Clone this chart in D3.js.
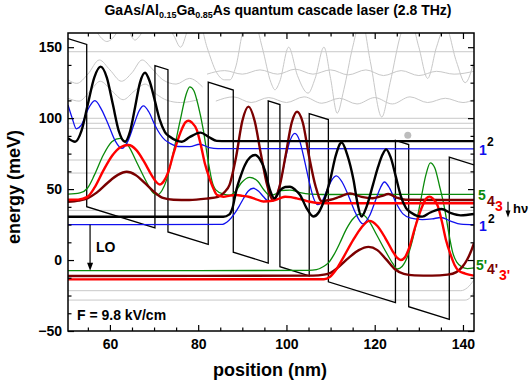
<!DOCTYPE html>
<html>
<head>
<meta charset="utf-8">
<script src="https://cdn.jsdelivr.net/npm/d3@7"></script>
<style>
  body { margin: 0; background: #fff; }
  text { font-family: "Liberation Sans", Arial, sans-serif; font-weight: bold; }
</style>
</head>
<body>
<svg id="chart" width="531" height="389"></svg>
<script>
// conduction band corners (nm, meV)
const bandX = [50.5, 54.74, 54.74, 70.2, 70.2, 73.15, 73.15, 82.28, 82.28, 87.95, 87.95, 95.87, 95.87, 98.52, 98.52, 105.16, 105.16, 109.5, 109.5, 124.7, 124.7, 127.7, 127.7, 136.9, 136.9, 142.5];
const bandE = [156.0, 151.9, 37.6, 22.7, 137.0, 134.1, 19.8, 11.0, 125.3, 119.8, 5.5, -2.1, 112.2, 109.6, -4.7, -11.1, 103.2, 99.0, -15.3, -30.0, 84.3, 81.4, -32.9, -41.8, 72.5, 67.1];

// |psi|^2 curves, upper period
const psi2 = [[50.5,85.8],[52.1,83.4],[53.55,91.1],[55.0,109.9],[56.45,128.6],[57.9,136.3],[59.3,128.6],[60.65,109.9],[62.0,91.1],[63.4,83.4],[64.55,90.5],[65.7,107.7],[66.8,124.9],[67.95,132.0],[69.0,126],[70.2,112],[71.3,98.7],[72.5,90],[73.6,86.9],[75.0,84.3],[76.3,83.4],[78.0,86.5],[80.5,89.8],[82.5,86.5],[84.2,84.0],[86.5,83.8],[142.5,83.8]];
const psi1 = [[50.5,109.3],[51.4,100.5],[52.4,92.5],[53.5,95],[55.0,106],[56.6,112.3],[58.1,106],[59.7,95],[61.2,84],[62.7,78.7],[64.1,84],[65.5,96],[66.6,105],[67.6,108.6],[68.8,104.5],[70.2,95],[71.3,89],[72.5,84.5],[73.6,82.3],[75.5,80],[78.1,79.9],[80.4,81.6],[82.5,79.3],[84.5,78.5],[142.5,78.3]];
const psi5 = [[50.5,46.4],[53.2,47.3],[54.9,50.6],[56.5,60],[58.5,74],[60.5,83.5],[62.3,85.8],[64.2,80.5],[66.2,68],[68.2,55.5],[69.5,48.5],[70.7,46],[71.8,49],[72.9,57],[74.3,75],[75.9,98],[77.2,116],[78.1,122],[79.0,119.5],[80.0,109],[81.2,91],[82.3,69],[83.1,56],[84.0,49.5],[85.7,46.5],[87.2,45.8],[88.5,48.5],[89.8,54.5],[91.7,58.3],[93.5,55.5],[95.0,49],[96.3,45.5],[97.5,46.5],[98.8,49],[100.8,49.3],[103.1,47.5],[105.5,46.5],[108.3,46.2],[142.5,46.3]];
const psi4 = [[50.5,41.1],[53.0,42],[54.9,43.5],[57.0,47.5],[59.5,54.5],[61.8,60],[63.8,62.2],[65.8,60],[68.0,54],[70.2,47.5],[72.0,43.8],[74.4,42.5],[78.0,42.3],[81.9,43.3],[84.5,44.5],[86.0,48],[87.1,53],[88.55,72],[90.0,98],[91.4,108.1],[92.8,98],[94.25,74],[95.7,52],[97.0,42.3],[98.45,52],[99.8,73.5],[101.2,96.9],[102.4,104.5],[103.7,96.9],[105.1,73.5],[106.6,52],[108.0,41.5],[110.0,42.5],[112.0,44.5],[114.4,47],[117.0,44.5],[119.5,43.5],[121.5,45],[123.1,46.5],[125.0,44],[127.0,42.5],[142.5,42.3]];
const psi3 = [[50.5,42.5],[52.8,42.6],[54.9,44.5],[56.5,51],[58.5,63],[60.5,73.5],[62.4,79.5],[64.2,81.1],[66.0,77.5],[67.8,69],[69.5,59.5],[70.5,55],[71.3,53.2],[72.2,55.5],[73.2,62],[74.5,76],[76.0,90],[77.1,97],[77.8,98.2],[78.6,96.8],[79.7,91.6],[80.6,81],[81.5,68.2],[82.7,56.4],[83.5,50],[84.2,46],[85.7,44.6],[87.2,45.4],[88.7,45.8],[90.0,45.2],[91.4,44.6],[93.0,43],[94.8,41.3],[96.8,41.8],[98.5,43.5],[99.7,44.6],[101.0,44.3],[102.3,43.5],[103.8,42.3],[105.3,41.1],[108.3,40.0],[142.5,40.0]];

// |psi|^2 curves, lower period
const psi2b = [[50.5,30.5],[85.7,30.5],[87.0,32],[87.8,37],[88.7,50],[89.5,58],[90.6,67],[91.8,72.5],[92.9,74.0],[94.0,71],[95.1,63.4],[96.2,50],[97.3,43.5],[98.5,49],[99.7,51.5],[100.8,51.7],[102.0,49.5],[103.1,45.8],[104.5,37],[106.1,30.7],[107.3,33.5],[108.3,40],[109.9,56.4],[111.2,74],[112.5,82.8],[113.8,74],[115.2,56.4],[116.1,40],[117.0,30.7],[118.2,38],[119.6,53],[120.8,66],[121.8,74.5],[122.6,78],[123.6,72.5],[124.8,58.6],[125.9,45.3],[127.1,36.6],[128.2,33.5],[129.6,31.2],[130.8,30.6],[132.6,33.5],[135.1,36],[137.3,33],[139.5,31.5],[142.5,32.5]];
const psi1b = [[50.5,24.9],[85.5,25.2],[87.0,28],[88.3,33],[89.3,38],[90.2,43],[91.3,48.5],[92.5,50.6],[93.7,48.5],[94.8,44.6],[96.0,41.5],[96.9,41.5],[97.8,46],[98.8,57],[99.8,72],[100.8,84],[101.9,89.3],[103.0,84],[104.1,70],[105.1,56],[106.1,44],[107.0,39],[108.0,41],[109.3,50],[110.3,56.5],[111.3,59.3],[112.6,55],[114.1,45],[115.6,33.5],[117.3,25.5],[118.8,31],[120.3,43],[121.3,51],[122.2,55],[123.4,50.5],[124.8,40.5],[126.4,32.5],[128.2,29.5],[130.8,28.5],[133.0,29],[135.0,30],[137.2,27.5],[139.5,25.3],[142.5,24.9]];
const psi5b = [[50.5,-7.5],[105.0,-7.3],[106.8,-6.8],[108.3,-4.7],[109.5,-2],[110.8,4],[112.1,12],[113.6,22],[115.2,29.5],[116.9,32.5],[118.5,28.5],[120.4,18],[122.5,6],[124.0,-2],[125.1,-6.3],[126.2,-4.5],[127.5,3],[128.8,17],[130.3,40],[131.6,60],[132.6,68.5],[133.6,65],[134.7,52],[135.8,37],[136.9,17],[137.7,5],[138.6,-1.5],[139.8,-5],[141.0,-6],[142.5,-5.5]];
const psi4b = [[50.5,-11.2],[106.0,-11],[108.5,-10.3],[110.0,-9],[111.6,-5.5],[114.1,1.5],[116.4,7],[118.6,9.3],[120.6,7],[122.6,0.5],[124.6,-6.5],[126.6,-9.8],[129.0,-10.8],[133.0,-11],[136.5,-10.3],[138.5,-8.5],[139.8,-5],[140.9,0],[141.8,6],[142.5,12]];
const psi3b = [[50.5,-13.6],[108.5,-13.5],[109.8,-12],[111.2,-7],[113.1,3],[115.1,14],[117.0,23],[118.8,27.6],[120.6,24],[122.4,15.5],[124.1,6],[125.1,1.5],[125.9,0],[126.8,1.7],[127.8,8.5],[129.1,22.5],[130.6,36.5],[131.7,43.5],[132.4,44.7],[133.2,43.3],[134.3,38],[135.2,27.5],[136.1,14.7],[137.3,2.9],[138.1,-3.5],[139.0,-7.5],[140.5,-9.5],[142.5,-11]];

// other states, grey
const grayLevels = [146.8, 99.9, 96.4, 92.8, 70.5, 61.3, 35.0];
const grayLow1 = [[50.5,-21.6],[139.5,-21.6],[141.0,-19.5],[142.5,-14]];
const grayLow2 = [[50.5,-28.2],[140.5,-28.2],[141.8,-26],[142.5,-22]];
const grayWave1 = [[72,170],[74.5,158],[76,150],[78,165],[80,170],[82,150],[84.2,132],[86,127],[87.2,127],[88.5,136],[90.5,165],[92.5,170],[94.5,150],[96.5,125],[97.4,120],[98.5,126],[100.5,150],[102.5,130],[104.9,117.6],[106.5,128],[108.5,150],[110,128],[111.5,103.5],[113,120],[115,150],[117,170],[119,140],[121.6,100.8],[123.5,125],[126,160],[128,170],[130,150],[132,128],[134,150],[136,165],[138.5,140],[140.5,125],[142.5,140]];
const grayWave2 = [[50.5,127],[52.5,124.5],[55,131],[57.6,141],[60,134],[62.6,126],[65,132],[67.3,141],[69.5,135],[72,127],[75,124],[78,128],[81,122]];
const grayWave3 = [[50.5,114],[53,112],[55.5,119],[57.8,126],[60.5,119],[63,113],[65.5,119],[68,124],[70.5,117],[73,112.5],[76,111],[80,113]];
const grayWave4 = [[82,131],[86,133.5],[90,131],[94,134],[98,131],[102,134.5],[106,131],[110,134],[114,130.5],[118,134],[122,130],[126,133.5],[130,130],[134,133],[138,131],[142.5,133]];
const grayWave5 = [[84,112],[88,115],[92,111],[96,114.5],[100,111],[104,115],[108,110.5],[112,114],[116,110],[120,114.5],[124,110],[128,115],[132,111],[136,114],[140,111],[142.5,113]];
const grayTop = [[54,170],[56.5,163],[58.2,156],[59.3,154],[60.5,156],[62.3,163],[63.8,165],[65,157],[65.7,155],[66.5,157],[68,164],[70,170]];

const xTicks = [60, 80, 100, 120, 140];
const yTicks = [-50, 0, 50, 100, 150];

const svg = d3.select('#chart');
const x = d3.scaleLinear().domain([50.5, 142.5]).range([68, 474]);
const y = d3.scaleLinear().domain([-50, 160]).range([331, 33]);

svg.append('defs').append('clipPath').attr('id', 'plotclip')
    .append('rect').attr('x', 68).attr('y', 33).attr('width', 406).attr('height', 298);

const plot = svg.append('g').attr('clip-path', 'url(#plotclip)');

const smooth = d3.line().x(d => x(d[0])).y(d => y(d[1])).curve(d3.curveMonotoneX);

// grey states
grayLevels.forEach(e => {
    plot.append('line')
        .attr('x1', x(50.5)).attr('x2', x(142.5))
        .attr('y1', y(e)).attr('y2', y(e))
        .attr('stroke', '#c8c8c8').attr('stroke-width', 1);
});
[grayLow1, grayLow2, grayWave1, grayWave2, grayWave3, grayWave4, grayWave5, grayTop].forEach(c => {
    plot.append('path').datum(c)
        .attr('fill', 'none').attr('stroke', '#c8c8c8').attr('stroke-width', 1)
        .attr('d', smooth);
});
plot.append('circle').attr('cx', x(127.5)).attr('cy', y(88)).attr('r', 3.5).attr('fill', '#bdbdbd');

// conduction band
const band = d3.line().x(d => x(d[0])).y(d => y(d[1]));
plot.append('path').datum(bandX.map((v, i) => [v, bandE[i]]))
    .attr('fill', 'none').attr('stroke', '#000').attr('stroke-width', 1.3)
    .attr('d', band);

// wavefunctions
const curves = [
    [psi5, '#0a8a0a', 1.3], [psi5b, '#0a8a0a', 1.3],
    [psi1, '#1010ee', 1.3], [psi1b, '#1010ee', 1.3],
    [psi4, '#7a0000', 2.4], [psi4b, '#7a0000', 2.4],
    [psi3, '#ff0000', 2.4], [psi3b, '#ff0000', 2.4],
    [psi2, '#000000', 2.4], [psi2b, '#000000', 2.4]
];
curves.forEach(([c, col, w]) => {
    plot.append('path').datum(c)
        .attr('fill', 'none').attr('stroke', col).attr('stroke-width', w)
        .attr('d', smooth);
});

// LO arrow
const loX = x(55.5);
plot.append('line').attr('x1', loX).attr('x2', loX)
    .attr('y1', y(24.9)).attr('y2', y(-7.5) - 7)
    .attr('stroke', '#000').attr('stroke-width', 1.2);
plot.append('path')
    .attr('d', `M${loX - 3},${y(-7.5) - 8}L${loX + 3},${y(-7.5) - 8}L${loX},${y(-7.5)}Z`)
    .attr('fill', '#000');

// axes
function styleAxis(g) {
    g.select('.domain').remove();
    g.selectAll('.tick line').attr('stroke', '#000').attr('stroke-width', 1.2);
    g.selectAll('text').attr('font-size', 14).attr('fill', '#000')
        .style('font-family', '"Liberation Sans", Arial, sans-serif').style('font-weight', 'bold');
}
const xMinor = d3.range(55, 145, 5).filter(v => v % 20 !== 0);
const yMinor = d3.range(-50, 161, 12.5).filter(v => v % 50 !== 0);

svg.append('g').attr('transform', 'translate(0,331)')
    .call(d3.axisBottom(x).tickValues(xTicks).tickSize(-6).tickPadding(8)).call(styleAxis);
svg.append('g').attr('transform', 'translate(0,331)')
    .call(d3.axisBottom(x).tickValues(xMinor).tickSize(-3.5).tickFormat('')).call(styleAxis);
svg.append('g').attr('transform', 'translate(0,33)')
    .call(d3.axisTop(x).tickValues(xTicks).tickSize(-6).tickFormat('')).call(styleAxis);
svg.append('g').attr('transform', 'translate(0,33)')
    .call(d3.axisTop(x).tickValues(xMinor).tickSize(-3.5).tickFormat('')).call(styleAxis);
svg.append('g').attr('transform', 'translate(68,0)')
    .call(d3.axisLeft(y).tickValues(yTicks).tickSize(-6).tickPadding(6)).call(styleAxis);
svg.append('g').attr('transform', 'translate(68,0)')
    .call(d3.axisLeft(y).tickValues(yMinor).tickSize(-3.5).tickFormat('')).call(styleAxis);
svg.append('g').attr('transform', 'translate(474,0)')
    .call(d3.axisRight(y).tickValues(yTicks).tickSize(-6).tickFormat('')).call(styleAxis);
svg.append('g').attr('transform', 'translate(474,0)')
    .call(d3.axisRight(y).tickValues(yMinor).tickSize(-3.5).tickFormat('')).call(styleAxis);

svg.append('rect').attr('x', 68).attr('y', 33).attr('width', 406).attr('height', 298)
    .attr('fill', 'none').attr('stroke', '#000').attr('stroke-width', 1.5);

// titles
const title = svg.append('text').attr('x', 278).attr('y', 15)
    .attr('text-anchor', 'middle').attr('font-size', 14);
title.append('tspan').text('GaAs/Al');
title.append('tspan').attr('font-size', 9).attr('dy', 3).text('0.15');
title.append('tspan').attr('dy', -3).text('Ga');
title.append('tspan').attr('font-size', 9).attr('dy', 3).text('0.85');
title.append('tspan').attr('dy', -3).text('As quantum cascade laser (2.8 THz)');

svg.append('text').attr('x', 270).attr('y', 376).attr('text-anchor', 'middle')
    .attr('font-size', 18).text('position (nm)');
svg.append('text').attr('transform', 'translate(20,187) rotate(-90)')
    .attr('text-anchor', 'middle').attr('font-size', 18).text('energy (meV)');

svg.append('text').attr('x', 96).attr('y', 252).attr('font-size', 14).text('LO');
svg.append('text').attr('x', 77).attr('y', 320).attr('font-size', 14).text('F = 9.8 kV/cm');

// state labels at right
const labels = [
    ['1', '#1010ee', 479, 155, 14], ['2', '#000', 487, 146, 12],
    ['5', '#0a8a0a', 478, 200, 14], ['4', '#7a0000', 487, 206, 14], ['3', '#ff0000', 495, 211, 14],
    ['1', '#1010ee', 479, 231, 14], ['2', '#000', 488, 223, 12],
    ["5'", '#0a8a0a', 476, 270, 14], ["4'", '#7a0000', 487, 274, 14], ["3'", '#ff0000', 499, 280, 14]
];
labels.forEach(([t, c, lx, ly, fs]) => {
    svg.append('text').attr('x', lx).attr('y', ly).attr('font-size', fs).attr('fill', c).text(t);
});

// h nu arrow
const hvX = 508;
svg.append('line').attr('x1', hvX).attr('x2', hvX).attr('y1', y(41)).attr('y2', y(30) - 6)
    .attr('stroke', '#000').attr('stroke-width', 1.2);
svg.append('path')
    .attr('d', `M${hvX - 2.5},${y(30) - 7}L${hvX + 2.5},${y(30) - 7}L${hvX},${y(30)}Z`)
    .attr('fill', '#000');
svg.append('text').attr('x', 513).attr('y', 213).attr('font-size', 13).text('hν');
</script>
</body>
</html>
